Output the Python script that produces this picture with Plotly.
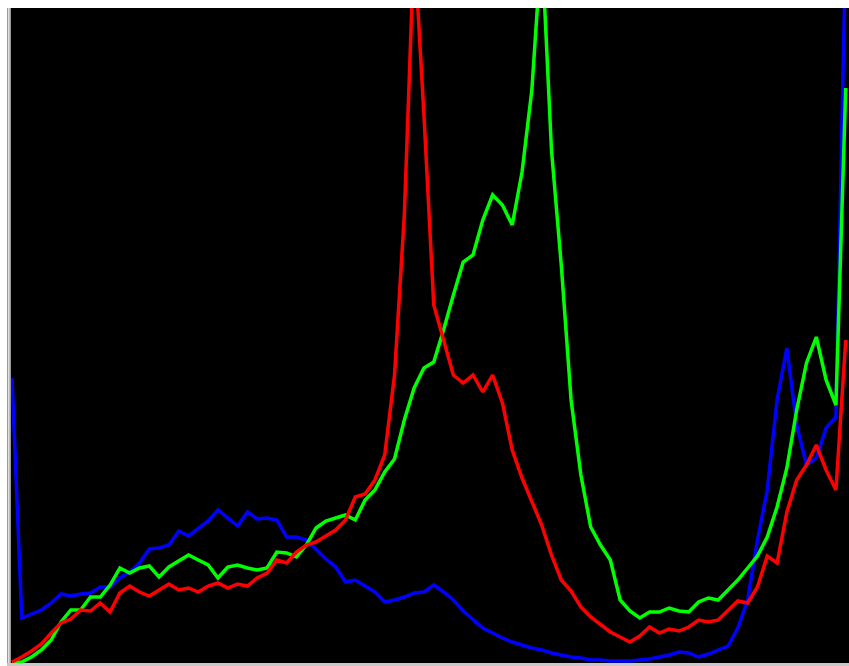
import plotly.graph_objects as go

# Histogram bins (intensity levels 0..255, every 3rd bin)
bins = list(range(0, 256, 3))

# Pixel-count heights per channel (clipped at the chart top, ~655)
blue_counts = [285, 45, 49, 53, 60, 69, 67, 69, 70, 76, 76, 85, 91, 100, 114, 115, 118, 132, 127, 135,
               142, 153, 145, 137, 151, 144, 145, 143, 126, 126, 123, 113, 104, 96, 81, 83, 77, 71, 61, 63,
               66, 70, 71, 78, 71, 63, 52, 44, 35, 30, 25, 21, 18, 15, 13, 10, 8, 6, 5, 3,
               3, 2, 2, 2, 3, 4, 6, 8, 11, 10, 6, 9, 13, 17, 35, 63, 123, 173, 263, 315,
               238, 198, 205, 235, 246, 720]

green_counts = [0, 1, 6, 13, 23, 41, 53, 53, 66, 66, 78, 95, 90, 95, 97, 86, 96, 102, 108, 103,
                98, 85, 96, 98, 95, 93, 95, 111, 110, 106, 118, 135, 142, 145, 148, 143, 163, 173, 191, 204,
                243, 275, 295, 301, 333, 368, 401, 408, 443, 468, 458, 438, 491, 573, 720, 513, 398, 263, 188, 136,
                118, 103, 63, 52, 45, 51, 51, 55, 52, 51, 61, 65, 63, 73, 83, 95, 107, 126, 156, 195,
                253, 300, 326, 283, 258, 575]

red_counts = [1, 6, 12, 19, 30, 40, 44, 53, 52, 60, 51, 70, 77, 71, 67, 73, 79, 73, 75, 71,
              77, 80, 75, 79, 77, 85, 90, 103, 100, 111, 118, 121, 127, 133, 143, 166, 169, 183, 208, 288,
              448, 720, 548, 358, 323, 288, 280, 288, 271, 288, 260, 213, 185, 161, 138, 108, 83, 72, 56, 46,
              38, 31, 26, 21, 27, 36, 30, 34, 32, 36, 43, 41, 43, 53, 62, 60, 76, 107, 100, 151,
              183, 198, 218, 193, 173, 323]

W, H = 849, 666
L, R, T, B = 11, 0, 8, 3
plot_w = W - L - R
plot_h = H - T - B

fig = go.Figure()
for name, vals, col in [("B", blue_counts, "rgb(0,0,255)"),
                        ("G", green_counts, "rgb(0,255,0)"),
                        ("R", red_counts, "rgb(255,0,0)")]:
    fig.add_trace(go.Scatter(x=bins, y=vals, mode="lines", name=name,
                             line=dict(color=col, width=3.5), hoverinfo="skip"))

def px_x(p):
    return (p - L) / plot_w

def px_y(p):
    return 1 - (p - T) / plot_h

shapes = [
    # left frame strip
    dict(type="rect", xref="paper", yref="paper", x0=px_x(7), x1=px_x(11), y0=px_y(8), y1=px_y(666),
         fillcolor="#9a9a9a", line=dict(width=0), layer="above"),
    dict(type="rect", xref="paper", yref="paper", x0=px_x(8), x1=px_x(9.5), y0=px_y(8), y1=px_y(666),
         fillcolor="#e0e0e0", line=dict(width=0), layer="above"),
    # bottom frame strip
    dict(type="rect", xref="paper", yref="paper", x0=px_x(7), x1=px_x(849), y0=px_y(663), y1=px_y(666),
         fillcolor="#c8c8c8", line=dict(width=0), layer="above"),
]

fig.update_layout(
    width=W, height=H,
    margin=dict(l=L, r=R, t=T, b=B, pad=0),
    paper_bgcolor="white",
    plot_bgcolor="black",
    showlegend=False,
    shapes=shapes,
    xaxis=dict(range=[-0.3, 256], visible=False, fixedrange=True),
    yaxis=dict(range=[0, 655], visible=False, fixedrange=True),
)

fig.write_html(
    "out.html",
    config={"displayModeBar": False},
    post_script="document.body.style.margin='0';document.body.style.overflow='hidden';",
)
